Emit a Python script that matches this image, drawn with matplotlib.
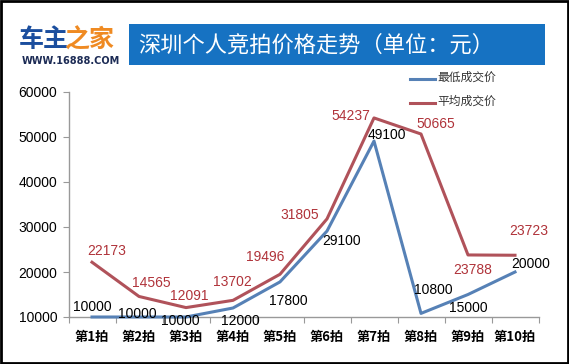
import matplotlib.pyplot as plt
from matplotlib.patches import Rectangle

plt.rcParams['font.family'] = ['Noto Sans CJK SC', 'DejaVu Sans']

# chart data
rounds = ['第1拍', '第2拍', '第3拍', '第4拍', '第5拍', '第6拍', '第7拍', '第8拍', '第9拍', '第10拍']
lowest_price = [10000, 10000, 10000, 12000, 17800, 29100, 49100, 10800, 15000, 20000]
average_price = [22173, 14565, 12091, 13702, 19496, 31805, 54237, 50665, 23788, 23723]
y_ticks = [10000, 20000, 30000, 40000, 50000, 60000]

title = '深圳个人竞拍价格走势（单位：元）'
series_names = ['最低成交价', '平均成交价']

# label offsets in pixels (dx, dy), dy upward
avg_offsets = [(15, 11), (12, 13), (3, 12), (-1, 18), (-15, 17), (-27, 4), (-23, 2), (15, 10), (5, -15), (14, 24)]
low_offsets = [(0, 10), (-2, 3), (-6, -4), (7, -13), (8, -19), (15, -10), (13, 6), (12, 23), (0, -14), (16, 8)]

W, H = 569, 364
fig = plt.figure(figsize=(W / 100, H / 100), dpi=100)
fig.patch.set_facecolor('white')

# outer frame
fig.patches.append(Rectangle((0.002, 0.003), 0.996, 0.994, transform=fig.transFigure,
                             fill=False, edgecolor='black', linewidth=2))

# logo
fig.text(19 / W, 1 - 40 / H, '车主', color='#1b4e9e', fontsize=18, fontweight='bold',
         va='center', ha='left')
fig.text(65 / W, 1 - 40 / H, '之家', color='#ef8a22', fontsize=18, fontweight='bold',
         va='center', ha='left')
fig.text(71 / W, 1 - 61 / H, 'WWW.16888.COM', color='#1c2b55', fontsize=7, fontweight='bold',
         va='center', ha='center', family='DejaVu Sans')

# title bar
fig.patches.append(Rectangle((129 / W, 1 - 65 / H), 416 / W, 41 / H, transform=fig.transFigure,
                             facecolor='#1672c2', edgecolor='none'))
fig.text(138 / W, 1 - 45 / H, title, color='white', fontsize=16, va='center', ha='left')

ax = fig.add_axes([68.5 / W, 47 / H, 470 / W, 225 / H])
x = list(range(1, len(rounds) + 1))

blue = '#5681b6'
red = '#b0525a'
ax.plot(x, lowest_price, color=blue, lw=2.2, clip_on=False, zorder=3)
ax.plot(x, average_price, color=red, lw=2.2, clip_on=False, zorder=2)

for xi, v, (dx, dy) in zip(x, average_price, avg_offsets):
    ax.annotate(str(v), (xi, v), xytext=(dx, dy), textcoords='offset pixels',
                ha='center', va='center', fontsize=10, color='#b0333a', family='Liberation Sans')
for xi, v, (dx, dy) in zip(x, lowest_price, low_offsets):
    ax.annotate(str(v), (xi, v), xytext=(dx, dy), textcoords='offset pixels',
                ha='center', va='center', fontsize=10, color='black', family='Liberation Sans')

ax.set_xlim(0.5, len(rounds) + 0.5)
ax.set_ylim(10000, 60000)
ax.set_yticks(y_ticks)
ax.set_yticklabels([str(t) for t in y_ticks], family='Liberation Sans', fontsize=10)

# ticks at category boundaries, labels at centres
ax.set_xticks([i + 0.5 for i in range(len(rounds) + 1)])
ax.set_xticklabels([])
ax.set_xticks(x, minor=True)
ax.set_xticklabels(rounds, minor=True, fontsize=9.5, fontweight='bold')
ax.tick_params(axis='x', which='minor', length=0, pad=9)
ax.tick_params(axis='x', which='major', length=4, color='#999999')
ax.tick_params(axis='y', length=4, color='#999999', pad=4)

for s in ['top', 'right']:
    ax.spines[s].set_visible(False)
for s in ['left', 'bottom']:
    ax.spines[s].set_color('#999999')
    ax.spines[s].set_linewidth(1)
ax.set_facecolor('none')

# legend drawn by hand next to the title bar
for i, (name, c) in enumerate(zip(series_names, [blue, red])):
    yy = 1 - (79 + 24 * i) / H
    fig.add_artist(plt.Line2D([410 / W, 435 / W], [yy, yy], color=c, lw=2.2))
    fig.text(437 / W, yy + 2 / H, name, color='#333333', fontsize=8.5, va='center', ha='left')

fig.savefig('out.png', dpi=100)
